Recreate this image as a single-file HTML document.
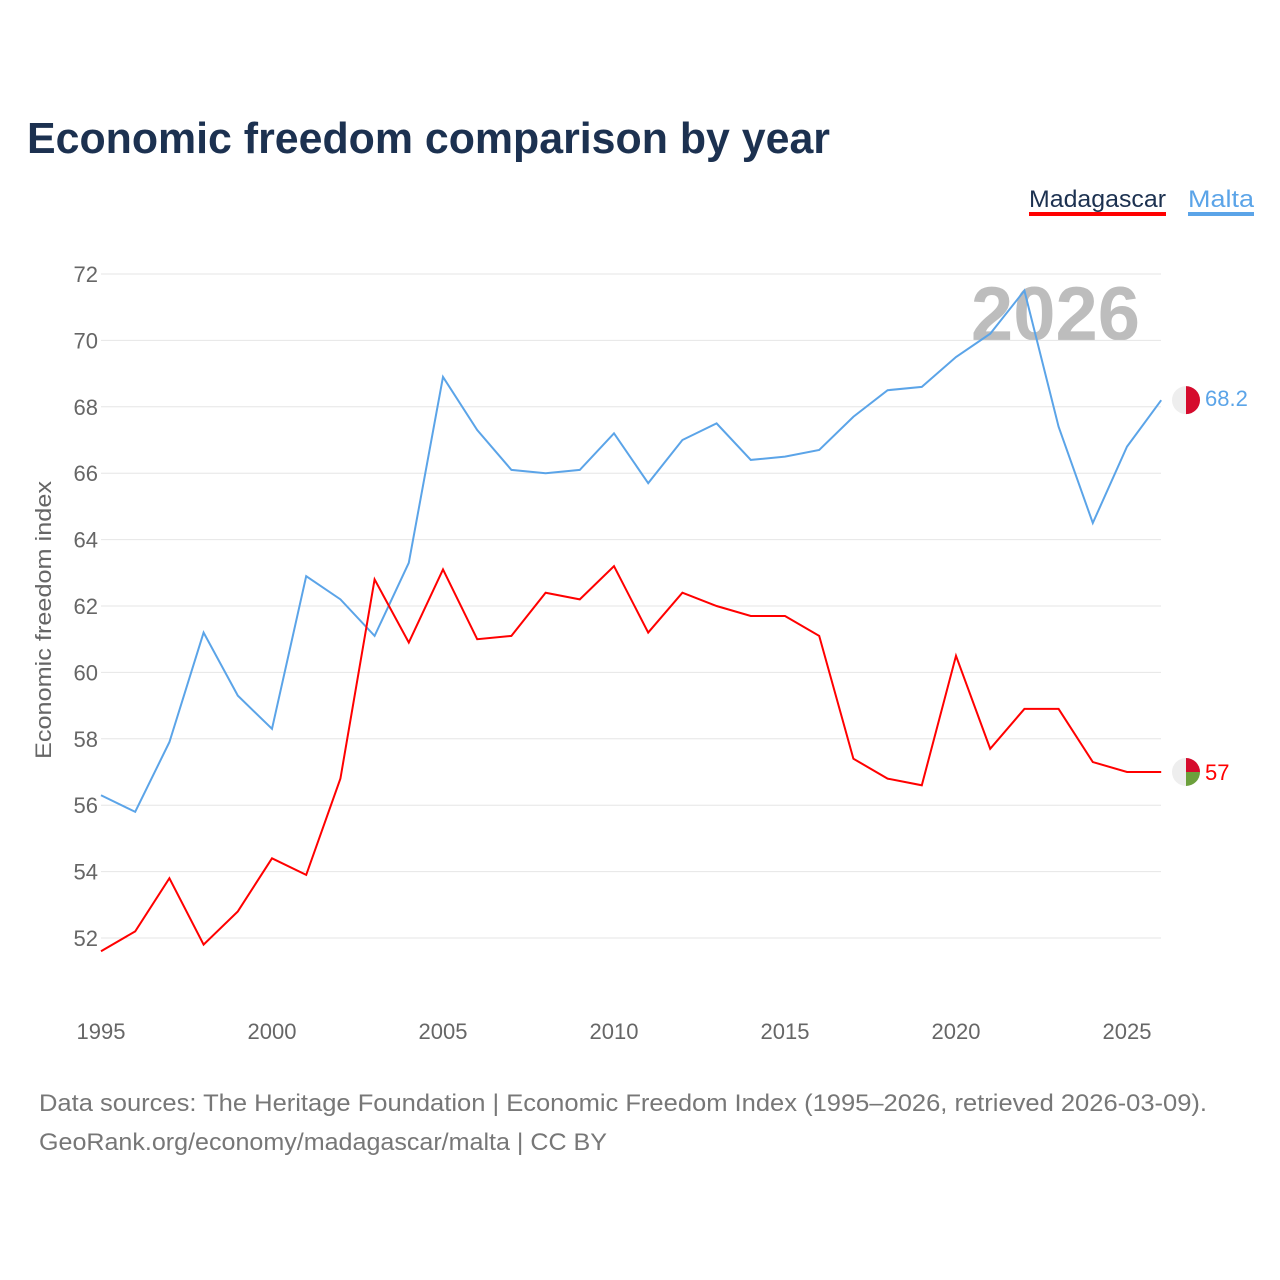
<!DOCTYPE html>
<html><head><meta charset="utf-8"><style>
body{margin:0;background:#fff;font-family:"Liberation Sans",sans-serif}
#wrap{position:relative;width:1280px;height:1280px;overflow:hidden}
</style></head><body>
<div id="wrap">
<svg id="chart" width="1280" height="1280" xmlns="http://www.w3.org/2000/svg">
<text x="27" y="153" font-size="44" font-weight="bold" fill="#1c3150" textLength="803" lengthAdjust="spacingAndGlyphs">Economic freedom comparison by year</text>
<g>
<text x="1029" y="207" font-size="24" fill="#1c3150" textLength="137" lengthAdjust="spacingAndGlyphs">Madagascar</text>
<rect x="1029" y="212" width="137" height="4" fill="#ff0000"/>
<text x="1188" y="207" font-size="24" fill="#5ba4e8" textLength="66" lengthAdjust="spacingAndGlyphs">Malta</text>
<rect x="1188" y="212" width="66" height="4" fill="#5ba4e8"/>
</g>
<text x="1140" y="340" font-size="76" font-weight="bold" fill="#bdbdbd" text-anchor="end">2026</text>
<text transform="translate(51,620) rotate(-90)" font-size="22" fill="#666" text-anchor="middle" textLength="278" lengthAdjust="spacingAndGlyphs">Economic freedom index</text>
<g id="grid"></g><g id="lines"></g>
<g>
<text x="39" y="1111" font-size="24" fill="#777" textLength="1168" lengthAdjust="spacingAndGlyphs">Data sources: The Heritage Foundation | Economic Freedom Index (1995–2026, retrieved 2026-03-09).</text>
<text x="39" y="1150" font-size="24" fill="#777" textLength="568" lengthAdjust="spacingAndGlyphs">GeoRank.org/economy/madagascar/malta | CC BY</text>
</g>
</svg>
</div>
<script>
const years=[1995,1996,1997,1998,1999,2000,2001,2002,2003,2004,2005,2006,2007,2008,2009,2010,2011,2012,2013,2014,2015,2016,2017,2018,2019,2020,2021,2022,2023,2024,2025,2026];
const malta=[56.3,55.8,57.9,61.2,59.3,58.3,62.9,62.2,61.1,63.3,68.9,67.3,66.1,66.0,66.1,67.2,65.7,67.0,67.5,66.4,66.5,66.7,67.7,68.5,68.6,69.5,70.2,71.5,67.4,64.5,66.8,68.2];
const madagascar=[51.6,52.2,53.8,51.8,52.8,54.4,53.9,56.8,62.8,60.9,63.1,61.0,61.1,62.4,62.2,63.2,61.2,62.4,62.0,61.7,61.7,61.1,57.4,56.8,56.6,60.5,57.7,58.9,58.9,57.3,57.0,57.0];
const yTicks=[52,54,56,58,60,62,64,66,68,70,72];
const xTicks=[1995,2000,2005,2010,2015,2020,2025];
const NS="http://www.w3.org/2000/svg";
const x=v=>101+(v-1995)*34.2;
const y=v=>274+(72-v)*33.2;
const grid=document.getElementById('grid'),lines=document.getElementById('lines');
function mk(t,a,p){const e=document.createElementNS(NS,t);for(const k in a)e.setAttribute(k,a[k]);p.appendChild(e);return e;}
yTicks.forEach(t=>{
 const l=mk('line',{x1:101,x2:1161,y1:y(t),y2:y(t),stroke:'#e6e6e6','stroke-width':1},grid);
 
 
 const tx=mk('text',{x:98,y:y(t)+8,'font-size':22,fill:'#666','text-anchor':'end'},grid);tx.textContent=t;
 
 
});
xTicks.forEach(t=>{
 const tx=mk('text',{x:x(t),y:1039,'font-size':22,fill:'#666','text-anchor':'middle'},grid);tx.textContent=t;
 
 
});
function series(vals,color,name,green,dy){
 const p=mk('polyline',{points:vals.map((v,i)=>x(years[i])+','+y(v)).join(' '),fill:'none',stroke:color,'stroke-width':2},lines);
 
 
 const last=vals[vals.length-1],ly=y(last);
 const c=mk('circle',{cx:1186,cy:ly,r:14,fill:'#eee'},lines);
 
 
 if(green){
  mk('path',{d:`M1186 ${ly} L1186 ${ly-14} A14 14 0 0 1 1200 ${ly} Z`,fill:'#d50b2d'},lines);
  mk('path',{d:`M1186 ${ly} L1200 ${ly} A14 14 0 0 1 1186 ${ly+14} Z`,fill:'#6ca03c'},lines);
 } else {
  mk('path',{d:`M1186 ${ly-14} A14 14 0 0 1 1186 ${ly+14} Z`,fill:'#d50b2d'},lines);
 }
 const t=mk('text',{x:1205,y:ly+8+dy,'font-size':22,fill:color},lines);t.textContent=String(last).replace(/\.0$/,'');
 
 
}
series(malta,'#5ba4e8','malta',false,-2);
series(madagascar,'#ff0000','madagascar',true,0);
</script>
</body></html>
